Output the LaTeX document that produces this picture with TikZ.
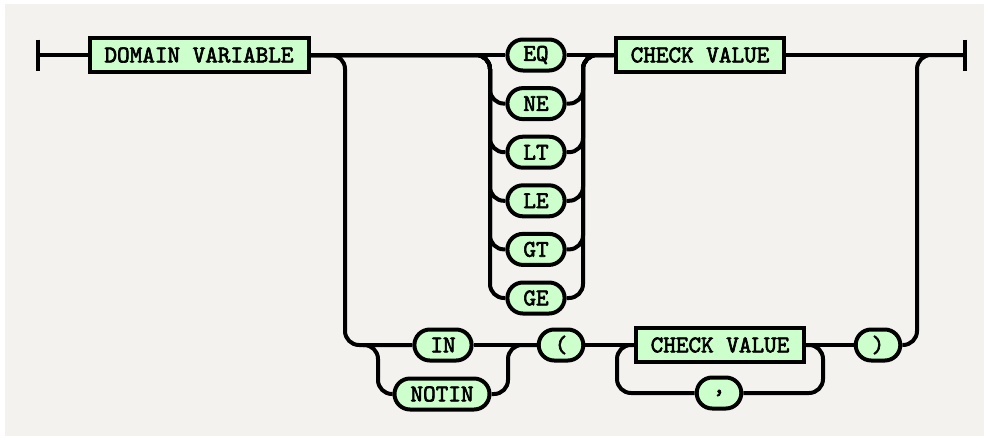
\documentclass[tikz,border=0pt]{standalone}
\usepackage{fontspec}
\newfontfamily\railfont[FakeBold=2.5]{lmmono10-regular.otf}
\definecolor{railbg}{RGB}{243,242,238}
\definecolor{railfill}{RGB}{204,255,204}
\tikzset{
  rail/.style={line width=4pt, rounded corners=14pt},
  nonterm/.style={draw, line width=4pt, fill=railfill, minimum height=34pt,
    inner xsep=15pt, font=\railfont\bfseries\fontsize{24}{26}\selectfont},
  term/.style={nonterm, rounded corners=15.5pt, minimum height=31pt, inner xsep=16pt},
}

\begin{document}
\begin{tikzpicture}[x=1pt,y=-1pt]
			\useasboundingbox (0,0) rectangle (984,437);
			\fill[railbg] (5,4) rectangle (984,436);

			% main line
			\coordinate (start) at (38,55);
			\coordinate (stop) at (965,55);
			\node[nonterm] (dv) at (199,55) {DOMAIN VARIABLE};
			\node[term] (eq) at (536,55) {EQ};
			\node[term] (ne) at (536,103.6) {NE};
			\node[term] (lt) at (536,152.2) {LT};
			\node[term] (le) at (536,200.8) {LE};
			\node[term] (gt) at (536,249.4) {GT};
			\node[term] (ge) at (536,298) {GE};
			\node[nonterm] (cv) at (700,55) {CHECK VALUE};

			% lower line
			\node[term] (in) at (443,345) {IN};
			\node[term] (notin) at (442,394) {NOTIN};
			\node[term] (lp) at (561,345) {(};
			\node[nonterm] (cvb) at (720,345) {CHECK VALUE};
			\node[term] (comma) at (719,393) {,};
			\node[term] (rp) at (878,345) {)};

			% branch columns
			\coordinate (opl) at (490,55);
			\coordinate (opr) at (583,55);
			\coordinate (down) at (345,55);
			\coordinate (inl) at (363,345);
			\coordinate (inlv) at (378,345);
			\coordinate (inr) at (508,345);
			\coordinate (lpl) at (617,345);
			\coordinate (lpr) at (823,345);
			\coordinate (up) at (917,55);

			\draw[line width=4pt] ([yshift=15.5pt]start) -- ([yshift=-15.5pt]start);
			\draw[line width=4pt] ([yshift=15.5pt]stop) -- ([yshift=-15.5pt]stop);
			\draw[rail] (start) -- (dv.west);
			\draw[rail] (dv.east) -- (eq.west);
			\draw[rail] (eq.east) -- (cv.west);
			\draw[rail] (cv.east) -- (stop);
			\foreach \o in {ne,lt,le,gt,ge} {
				\draw[rail] (dv.east) -| (opl |- \o) -- (\o.west);
				\draw[rail] (\o.east) -| (opr) -- (cv.west);
			}

			\draw[rail] (dv.east) -| (down |- in) -- (in.west);
			\draw[rail] (inl) -| (inlv |- notin) -- (notin.west);
			\draw[rail] (notin.east) -| (inr) -- (lp.west);
			\draw[rail] (in.east) -- (lp.west);
			\draw[rail] (lp.east) -- (cvb.west);
			\draw[rail] (cvb.east) -| (lpr |- comma) -- (comma.east);
			\draw[rail] (comma.west) -| (lpl) -- (cvb.west);
			\draw[rail] (cvb.east) -- (rp.west);
			\draw[rail] (rp.east) -| (up) -- (stop);
\end{tikzpicture}
\end{document}
